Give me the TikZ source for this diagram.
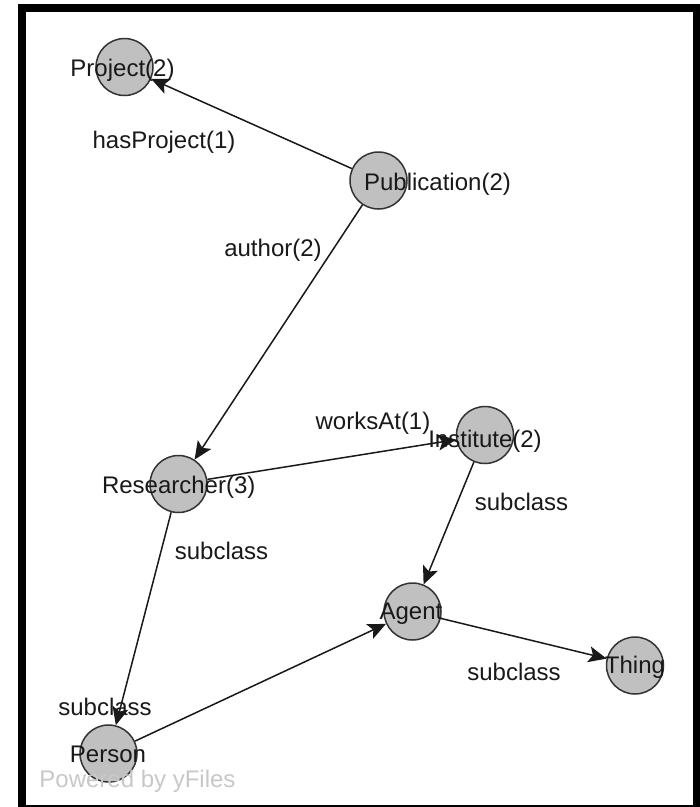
\documentclass[tikz,border=0pt]{standalone}
\usepackage{fontspec}
\setmainfont{Liberation Sans}
\usetikzlibrary{arrows.meta}
\begin{document}
\begin{tikzpicture}[x=1pt,y=-1pt,
  cnode/.style={circle,draw=black!80,line width=1.5pt,fill={rgb,255:red,192;green,192;blue,192},minimum size=57pt,inner sep=0pt},
  txt/.style={anchor=base,inner sep=0pt,font=\fontsize{24}{28}\selectfont,text=black!90},
  wm/.style={anchor=base,inner sep=0pt,font=\fontsize{24}{28}\selectfont,text={rgb,255:red,200;green,200;blue,200}},
  edge/.style={draw=black!90,line width=1.5pt,-{Stealth[length=18pt,width=16pt,inset=4pt]}}]
\useasboundingbox (0,0) rectangle (700,807);
\fill[white] (0,0) rectangle (700,807);
% frame
\fill[black] (18,4) rectangle (700,12.3);
\fill[black] (18,4) rectangle (26,807);
\fill[black] (693,4) rectangle (700,807);
\fill[black] (18,805.3) rectangle (700,807);
% nodes
\node[cnode] (proj) at (124.5,67) {};
\node[cnode] (pub) at (378.5,180.5) {};
\node[cnode] (res) at (178.5,484) {};
\node[cnode] (inst) at (485,435) {};
\node[cnode] (agent) at (412.5,611.5) {};
\node[cnode] (thing) at (635,665.5) {};
\node[cnode] (person) at (108.5,753.5) {};
% watermark
\node[wm] (pw) at (137.5,787) {Powered by yFiles};
% node labels
\node[txt] (lproj) at (122.5,76) {Project(2)};
\node[txt] (lpub) at (437.5,190) {Publication(2)};
\node[txt] (lres) at (178.7,493) {Researcher(3)};
\node[txt] (linst) at (485,447) {Institute(2)};
\node[txt] (lagent) at (411,619) {Agent};
\node[txt] (lthing) at (635,673) {Thing};
\node[txt] (lperson) at (108,762) {Person};
% edge labels
\node[txt] (ehas) at (164,148) {hasProject(1)};
\node[txt] (eauth) at (273,256) {author(2)};
\node[txt] (ework) at (373,429) {worksAt(1)};
\node[txt] (esub1) at (221.5,559) {subclass};
\node[txt] (esub2) at (521.5,510) {subclass};
\node[txt] (esub3) at (514,680) {subclass};
\node[txt] (esub4) at (105,715) {subclass};
% edges
\draw[edge] (pub) -- (proj);
\draw[edge] (pub) -- (res);
\draw[edge] (res) -- (inst);
\draw[edge] (res) -- (person);
\draw[edge] (inst) -- (agent);
\draw[edge] (person) -- (agent);
\draw[edge] (agent) -- (thing);
\end{tikzpicture}
\end{document}
